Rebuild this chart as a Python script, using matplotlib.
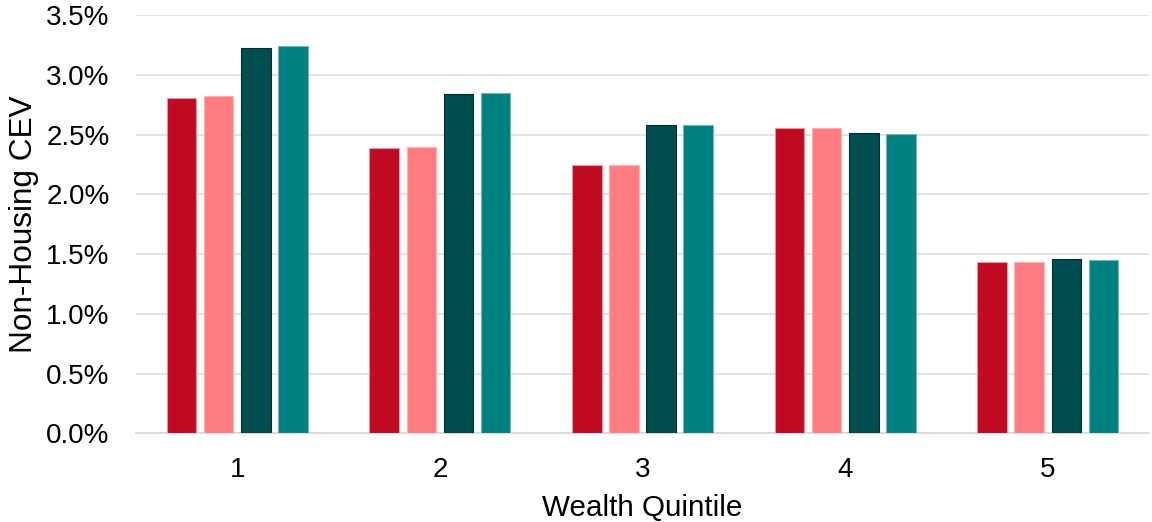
import numpy as np
import matplotlib
matplotlib.use("Agg")
from matplotlib import pyplot as plt
from matplotlib.ticker import PercentFormatter

plt.rcParams['font.family'] = ['Liberation Sans', 'DejaVu Sans']

# data (non-housing CEV, percent)
quintiles = ['1', '2', '3', '4', '5']
series_a = [2.81, 2.39, 2.245, 2.56, 1.435]
series_b = [2.82, 2.40, 2.245, 2.56, 1.435]
series_c = [3.225, 2.845, 2.58, 2.513, 1.457]
series_d = [3.245, 2.85, 2.58, 2.507, 1.451]

colors = ['#C00A22', '#FF7C80', '#004E4F', '#008080']
edges = ['#E39AA4', '#FFB3B5', '#002E2E', '#6FB8B8']

fig = plt.figure(figsize=(11.52, 5.22), dpi=100)
ax = fig.add_axes([0.118, 0.170, 0.8795, 0.8007])

x = np.arange(len(quintiles))
step = 0.1832
width = 0.146
for i, vals in enumerate([series_a, series_b, series_c, series_d]):
    ax.bar(x + (i - 1.5) * step, vals, width, color=colors[i],
           edgecolor=edges[i], linewidth=0.8, zorder=3)

ax.set_xlim(-0.5, 4.5)
ax.set_ylim(0, 3.5)
ax.set_yticks(np.arange(0, 3.51, 0.5))
ax.yaxis.set_major_formatter(PercentFormatter(decimals=1))
ax.set_xticks(x)
ax.set_xticklabels(quintiles)

ax.grid(axis='y', color='#E0E0E0', linewidth=1.3, zorder=0)
for s in ['top', 'right', 'left']:
    ax.spines[s].set_visible(False)
ax.spines['bottom'].set_color('#D9D9D9')
ax.spines['bottom'].set_linewidth(1.3)
ax.tick_params(axis='both', length=0, labelsize=20, colors='black')
ax.tick_params(axis='y', pad=19)
ax.tick_params(axis='x', pad=17)

ax.set_xlabel('Wealth Quintile', fontsize=21.3, labelpad=8)
ax.set_ylabel('Non-Housing CEV', fontsize=22.7)
ax.yaxis.set_label_coords(-0.096, 0.5)

fig.savefig('out.png', dpi=100)
